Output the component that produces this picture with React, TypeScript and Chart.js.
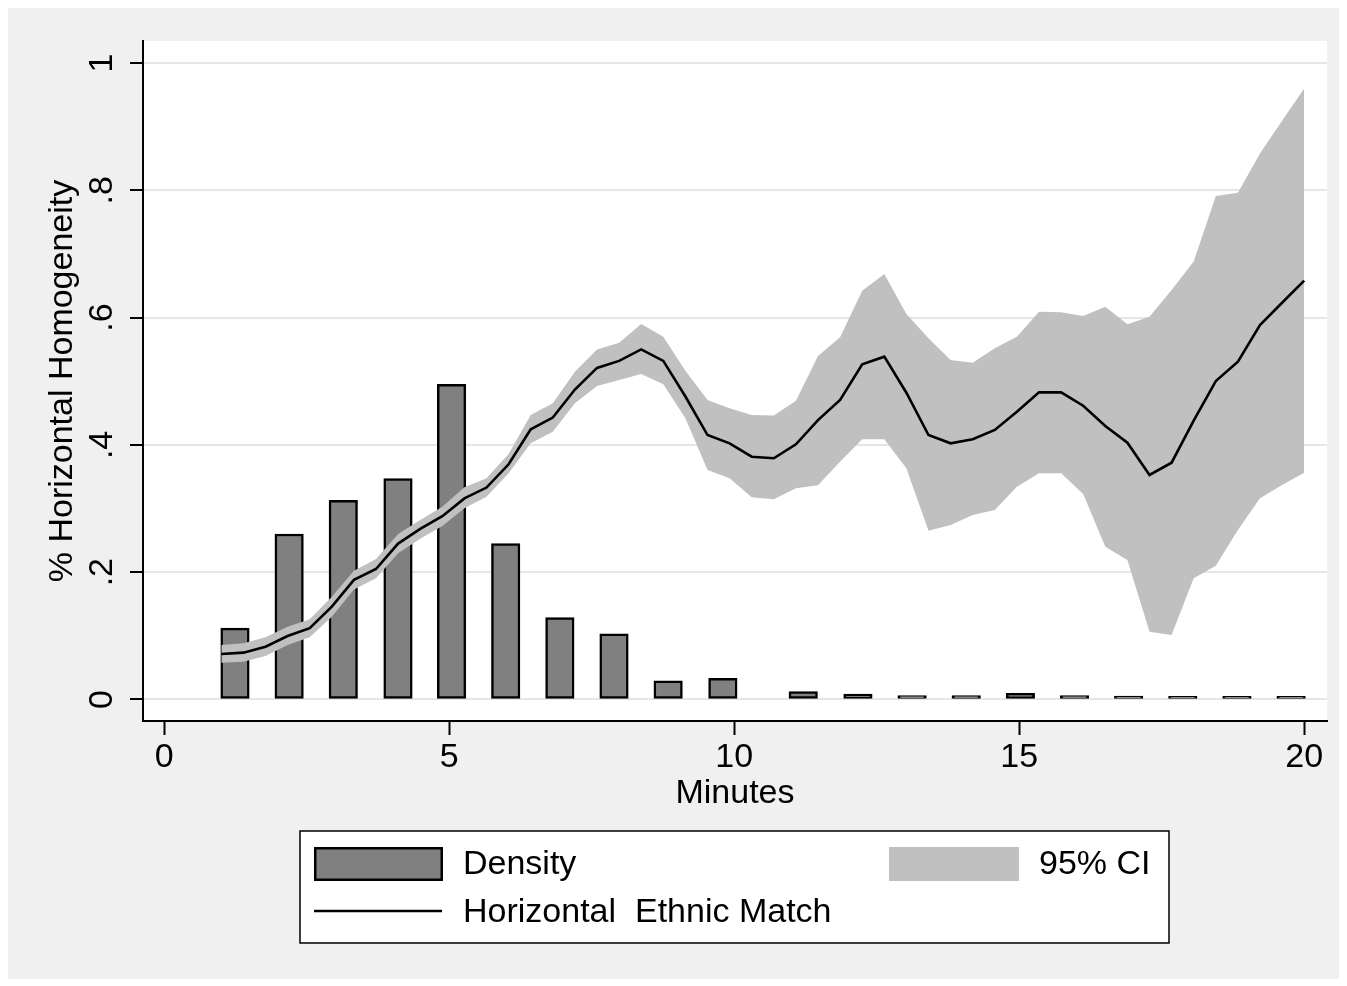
import React, { useEffect, useRef } from "react";
import { Chart, registerables } from "chart.js";

Chart.register(...registerables);

// ---- data ----
const lineX = [
  1.0, 1.388, 1.776, 2.163, 2.551, 2.939, 3.327, 3.714, 4.102, 4.49,
  4.878, 5.265, 5.653, 6.041, 6.429, 6.816, 7.204, 7.592, 7.98, 8.367,
  8.755, 9.143, 9.531, 9.918, 10.306, 10.694, 11.082, 11.469, 11.857, 12.245,
  12.633, 13.02, 13.408, 13.796, 14.184, 14.571, 14.959, 15.347, 15.735, 16.122,
  16.51, 16.898, 17.286, 17.673, 18.061, 18.449, 18.837, 19.224, 19.612, 20.0,
];
const matchLine = [
  0.0715, 0.0736, 0.083, 0.0998, 0.112, 0.146, 0.188, 0.205, 0.245, 0.268,
  0.288, 0.316, 0.333, 0.3695, 0.4245, 0.443, 0.487, 0.521, 0.532, 0.55,
  0.532, 0.476, 0.4155, 0.4025, 0.3815, 0.379, 0.401, 0.439, 0.4705, 0.5266,
  0.5386, 0.482, 0.4155, 0.4025, 0.409, 0.4235, 0.452, 0.4826, 0.4826, 0.4616,
  0.4297, 0.4035, 0.3527, 0.372, 0.438, 0.5004, 0.5307, 0.5884, 0.6234, 0.658,
];
const ciUpper = [
  0.0856, 0.0882, 0.0977, 0.1144, 0.126, 0.1615, 0.2024, 0.2207, 0.26, 0.282,
  0.303, 0.3334, 0.3475, 0.3857, 0.447, 0.4653, 0.515, 0.55, 0.5606, 0.59,
  0.57, 0.5166, 0.4705, 0.4575, 0.447, 0.446, 0.4695, 0.5397, 0.569, 0.6423,
  0.6685, 0.6057, 0.5675, 0.5334, 0.5292, 0.5518, 0.57, 0.6093, 0.6083, 0.6025,
  0.6172, 0.5894, 0.6014, 0.6434, 0.688, 0.791, 0.7962, 0.858, 0.9093, 0.96,
];
const ciLower = [
  0.0579, 0.0594, 0.0683, 0.0856, 0.0977, 0.13, 0.173, 0.1904, 0.2297, 0.2526,
  0.2726, 0.3004, 0.3186, 0.3554, 0.4025, 0.4208, 0.4653, 0.4925, 0.502, 0.5114,
  0.4952, 0.4418, 0.3606, 0.3475, 0.3177, 0.3145, 0.3318, 0.3365, 0.3736, 0.4088,
  0.4088, 0.3632, 0.2652, 0.2742, 0.29, 0.2977, 0.3343, 0.3554, 0.3554, 0.3229,
  0.24, 0.2192, 0.1065, 0.1013, 0.1904, 0.2102, 0.2663, 0.316, 0.337, 0.3563,
];
const barX = [
  1.24, 2.19, 3.14, 4.1, 5.04, 5.99, 6.94, 7.89, 8.84, 9.8,
  11.21, 12.17, 13.12, 14.07, 15.02, 15.97, 16.92, 17.87, 18.82, 19.77,
];
const density = [
  0.112, 0.26, 0.313, 0.347, 0.495, 0.245, 0.1285, 0.103, 0.0295, 0.0333,
  0.0123, 0.0085, 0.006, 0.006, 0.0097, 0.006, 0.0052, 0.005, 0.005, 0.005,
];
const xTicks = [0, 5, 10, 15, 20];
const xTickLabels = ["0", "5", "10", "15", "20"];
const yTicks = [0, 0.2, 0.4, 0.6, 0.8, 1];
const yTickLabels = ["0", ".2", ".4", ".6", ".8", "1"];
const xTitle = "Minutes";
const yTitle = "% Horizontal Homogeneity";
const legendLabels = ["Density", "95% CI", "Horizontal  Ethnic Match"];

// ---- styles ----
const FONT = "34px 'Liberation Sans', Arial, Helvetica, sans-serif";
const BAR_FILL = "#808080";
const BAND_FILL = "#c0c0c0";
const GRID = "#e6e6e6";
const W = 1331;
const H = 971;

const stataPlugin = {
  id: "stataDecor",
  beforeDraw(chart: any) {
    const { ctx, chartArea: a } = chart;
    ctx.save();
    ctx.fillStyle = "#ffffff";
    ctx.fillRect(a.left, a.top, a.right - a.left, a.bottom - a.top);
    ctx.restore();
  },
  afterDraw(chart: any) {
    const { ctx, chartArea: a, scales } = chart;
    const xs = scales.x;
    const ys = scales.y;
    ctx.save();
    ctx.font = FONT;
    ctx.fillStyle = "#000";
    ctx.textAlign = "center";
    ctx.textBaseline = "alphabetic";
    // x tick labels
    xTicks.forEach((v, i) => {
      ctx.fillText(xTickLabels[i], xs.getPixelForValue(v), a.bottom + 46);
    });
    // x title
    ctx.fillText(xTitle, (a.left + a.right) / 2, a.bottom + 82);
    // y tick labels (rotated)
    yTicks.forEach((v, i) => {
      ctx.save();
      ctx.translate(a.left - 31, ys.getPixelForValue(v));
      ctx.rotate(-Math.PI / 2);
      ctx.fillText(yTickLabels[i], 0, 0);
      ctx.restore();
    });
    // y title
    ctx.save();
    ctx.translate(a.left - 71, (a.top + a.bottom) / 2);
    ctx.rotate(-Math.PI / 2);
    ctx.fillText(yTitle, 0, 0);
    ctx.restore();

    // legend
    const lx = 292, ly = 823, lw = 869, lh = 112;
    ctx.fillStyle = "#ffffff";
    ctx.fillRect(lx, ly, lw, lh);
    ctx.strokeStyle = "#000";
    ctx.lineWidth = 1.5;
    ctx.strokeRect(lx, ly, lw, lh);
    // density swatch
    ctx.fillStyle = BAR_FILL;
    ctx.fillRect(306, 839, 129, 34);
    ctx.lineWidth = 2.5;
    ctx.strokeRect(307.25, 840.25, 126.5, 31.5);
    // CI swatch
    ctx.fillStyle = BAND_FILL;
    ctx.fillRect(881, 839, 130, 34);
    // line swatch
    ctx.beginPath();
    ctx.moveTo(306, 903);
    ctx.lineTo(434, 903);
    ctx.lineWidth = 2.6;
    ctx.strokeStyle = "#000";
    ctx.stroke();
    ctx.fillStyle = "#000";
    ctx.textAlign = "left";
    ctx.textBaseline = "middle";
    ctx.fillText(legendLabels[0], 455, 857);
    ctx.fillText(legendLabels[1], 1031, 857);
    ctx.fillText(legendLabels[2], 455, 905);
    ctx.restore();
  },
};

export default function App() {
  const ref = useRef<HTMLCanvasElement | null>(null);
  useEffect(() => {
    if (!ref.current) return;
    const chart = new Chart(ref.current, {
      type: "line",
      data: {
        datasets: [
          {
            type: "bar",
            label: legendLabels[0],
            data: barX.map((x, i) => ({ x, y: density[i] })),
            backgroundColor: BAR_FILL,
            borderColor: "#000",
            borderWidth: 2.5,
            borderSkipped: false,
            barThickness: 28.5,
            order: 3,
          } as any,
          {
            type: "line",
            label: "upper",
            data: lineX.map((x, i) => ({ x, y: ciUpper[i] })),
            borderWidth: 0,
            borderColor: "rgba(0,0,0,0)",
            backgroundColor: BAND_FILL,
            pointRadius: 0,
            fill: "+1",
            tension: 0,
            order: 2,
          },
          {
            type: "line",
            label: legendLabels[1],
            data: lineX.map((x, i) => ({ x, y: ciLower[i] })),
            borderWidth: 0,
            borderColor: "rgba(0,0,0,0)",
            backgroundColor: BAND_FILL,
            pointRadius: 0,
            fill: false,
            tension: 0,
            order: 2,
          },
          {
            type: "line",
            label: legendLabels[2],
            data: lineX.map((x, i) => ({ x, y: matchLine[i] })),
            borderWidth: 2.6,
            borderColor: "#000",
            pointRadius: 0,
            fill: false,
            tension: 0,
            order: 1,
          },
        ],
      },
      options: {
        animation: false,
        responsive: false,
        devicePixelRatio: 1,
        events: [],
        layout: { padding: { top: 33, right: 12, left: 0, bottom: 0 } },
        plugins: { legend: { display: false }, tooltip: { enabled: false } },
        scales: {
          x: {
            type: "linear",
            min: -0.374,
            max: 20.4,
            offset: false,
            afterBuildTicks: (s: any) => {
              s.ticks = xTicks.map((v) => ({ value: v }));
            },
            afterFit: (s: any) => {
              s.height = 258;
            },
            ticks: { display: false },
            grid: {
              offset: false,
              drawOnChartArea: false,
              drawTicks: true,
              tickLength: 14,
              tickColor: "#000",
              tickWidth: 2,
              color: "#000",
            },
            border: { display: true, color: "#000", width: 2 },
          },
          y: {
            type: "linear",
            min: -0.0338,
            max: 1.0346,
            afterBuildTicks: (s: any) => {
              s.ticks = yTicks.map((v) => ({ value: v }));
            },
            afterFit: (s: any) => {
              s.width = 135;
            },
            ticks: { display: false },
            grid: {
              color: GRID,
              lineWidth: 2,
              drawTicks: true,
              tickLength: 13,
              tickColor: "#000",
              tickWidth: 2,
            },
            border: { display: true, color: "#000", width: 2 },
          },
        },
      } as any,
      plugins: [stataPlugin],
    });
    return () => chart.destroy();
  }, []);

  return (
    <div style={{ width: W, height: H, background: "#f0f0f0" }}>
      <canvas ref={ref} width={W} height={H} style={{ display: "block", width: W, height: H }} />
    </div>
  );
}
